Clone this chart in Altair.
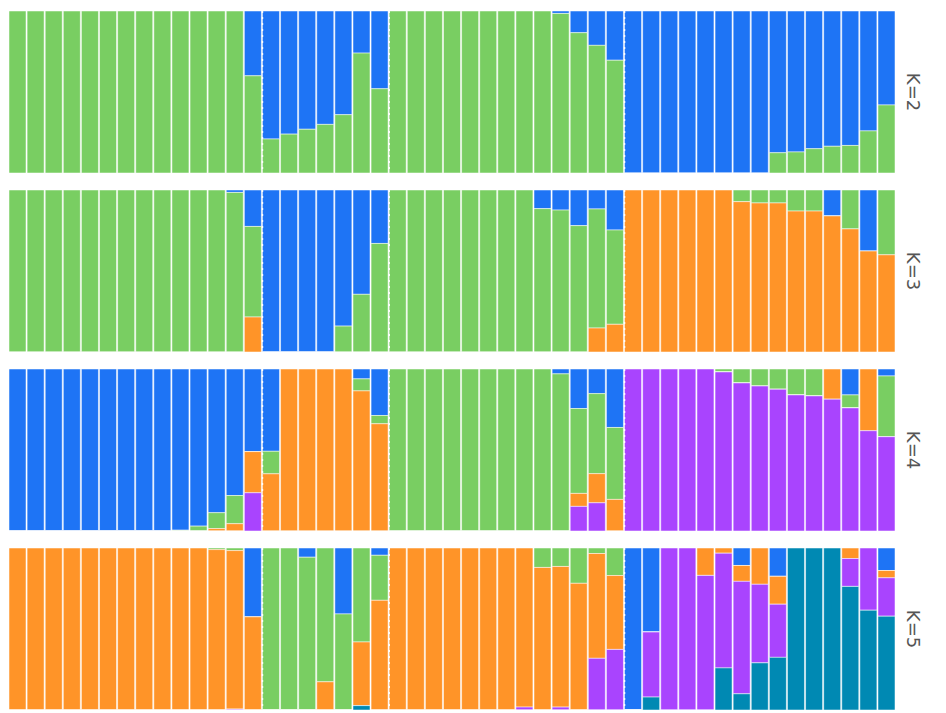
import altair as alt
import pandas as pd

# Population sizes (individuals per population, left to right)
pop_sizes = [14, 7, 13, 15]
sep_individuals = [15, 22, 35]  # first individual of populations 2-4

cluster_names = ["c1", "c2", "c3", "c4", "c5"]
cluster_colors = ["#1E74F5", "#79CE62", "#FF9428", "#A944FE", "#0089B3"]
stack_order = {"c5": 1, "c4": 2, "c3": 3, "c2": 4, "c1": 5}

# ---------- K = 2 ----------
k2_green = [1] * 13 + [0.60] + \
    [0.21, 0.24, 0.27, 0.30, 0.36, 0.74, 0.52] + \
    [1] * 9 + [0.985, 0.866, 0.788, 0.696] + \
    [0] * 8 + [0.125, 0.13, 0.15, 0.165, 0.17, 0.26, 0.42]
k2_blue = [0] * 13 + [0.40] + \
    [0.79, 0.76, 0.73, 0.70, 0.64, 0.26, 0.48] + \
    [0] * 9 + [0.015, 0.134, 0.212, 0.304] + \
    [1] * 8 + [0.875, 0.87, 0.85, 0.835, 0.83, 0.74, 0.58]

# ---------- K = 3 ----------
k3_blue = [0] * 12 + [0.015, 0.225] + \
    [1, 1, 1, 1, 0.84, 0.644, 0.33] + \
    [0] * 8 + [0.115, 0.124, 0.22, 0.117, 0.247] + \
    [0] * 11 + [0.16, 0, 0.377, 0]
k3_green = [1] * 12 + [0.985, 0.559] + \
    [0, 0, 0, 0, 0.16, 0.356, 0.67] + \
    [1] * 8 + [0.885, 0.876, 0.78, 0.735, 0.582] + \
    [0] * 6 + [0.072, 0.08, 0.08, 0.13, 0.13, 0, 0.24, 0, 0.40]
k3_orange = [0] * 13 + [0.216] + \
    [0] * 7 + \
    [0] * 11 + [0.148, 0.171] + \
    [1] * 6 + [0.928, 0.92, 0.92, 0.87, 0.87, 0.84, 0.76, 0.623, 0.60]

# ---------- K = 4 ----------
k4_blue = [1] * 9 + [0.995, 0.97, 0.887, 0.781, 0.51] + \
    [0.508, 0, 0, 0, 0, 0.061, 0.287] + \
    [0] * 9 + [0.03, 0.244, 0.152, 0.361] + \
    [0] * 12 + [0.16, 0, 0.043]
k4_green = [0] * 9 + [0.005, 0.03, 0.098, 0.174, 0] + \
    [0.139, 0, 0, 0, 0, 0.074, 0.051] + \
    [1] * 9 + [0.97, 0.524, 0.494, 0.444] + \
    [0] * 5 + [0.018, 0.086, 0.105, 0.125, 0.16, 0.166, 0, 0.08, 0, 0.375]
k4_orange = [0] * 11 + [0.015, 0.045, 0.254] + \
    [0.353, 1, 1, 1, 1, 0.865, 0.662] + \
    [0] * 10 + [0.08, 0.18, 0.195] + \
    [0] * 11 + [0.186, 0, 0.381, 0]
k4_purple = [0] * 13 + [0.236] + \
    [0] * 7 + \
    [0] * 10 + [0.152, 0.174, 0] + \
    [1] * 5 + [0.982, 0.914, 0.895, 0.875, 0.84, 0.834, 0.814, 0.76, 0.619, 0.582]

# ---------- K = 5 ----------
k5_blue = [0] * 13 + [0.425] + \
    [0, 0, 0.057, 0, 0.407, 0, 0.045] + \
    [0] * 13 + \
    [1, 0.519, 0, 0, 0, 0, 0.108, 0, 0.175, 0, 0, 0, 0, 0, 0.139]
k5_green = [0] * 11 + [0.01, 0.016, 0] + \
    [1, 1, 0.943, 0.826, 0.593, 0.58, 0.278] + \
    [0] * 8 + [0.12, 0.114, 0.218, 0.034, 0.17] + \
    [0] * 15
k5_orange = [1] * 11 + [0.99, 0.978, 0.575] + \
    [0, 0, 0, 0.174, 0, 0.393, 0.677] + \
    [1] * 7 + [0.982, 0.88, 0.868, 0.782, 0.647, 0.456] + \
    [0, 0, 0, 0, 0.169, 0.032, 0.098, 0.224, 0.172, 0, 0, 0, 0.065, 0, 0.045]
k5_purple = [0] * 12 + [0.006, 0] + \
    [0] * 7 + \
    [0] * 7 + [0.018, 0, 0.018, 0, 0.319, 0.374] + \
    [0, 0.401, 1, 1, 0.831, 0.708, 0.694, 0.485, 0.328, 0, 0, 0, 0.172, 0.384, 0.237]
k5_teal = [0] * 14 + \
    [0, 0, 0, 0, 0, 0.027, 0] + \
    [0] * 13 + \
    [0, 0.08, 0, 0, 0, 0.26, 0.1, 0.291, 0.325, 1, 1, 1, 0.763, 0.616, 0.579]

panels = {
    "K=2": {"c1": k2_blue, "c2": k2_green},
    "K=3": {"c1": k3_blue, "c2": k3_green, "c3": k3_orange},
    "K=4": {"c1": k4_blue, "c2": k4_green, "c3": k4_orange, "c4": k4_purple},
    "K=5": {"c1": k5_blue, "c2": k5_green, "c3": k5_orange, "c4": k5_purple, "c5": k5_teal},
}

rows = []
for k, comps in panels.items():
    for cl, vals in comps.items():
        for i, v in enumerate(vals):
            ind = i + 1
            rows.append({
                "K": k, "ind": ind, "cluster": cl, "value": v,
                "ord": stack_order[cl],
                "sep": bool(cl == "c1" and ind in sep_individuals),
            })
df = pd.DataFrame(rows)

base = alt.Chart(df)

bars = base.mark_bar(stroke="white", strokeWidth=1, strokeOpacity=0.5).encode(
    x=alt.X("ind:O", axis=None, scale=alt.Scale(paddingInner=0.06, paddingOuter=0)),
    y=alt.Y("value:Q", stack="normalize", axis=None,
            scale=alt.Scale(domain=[0, 1], nice=False)),
    color=alt.Color("cluster:N", legend=None,
                    scale=alt.Scale(domain=cluster_names, range=cluster_colors)),
    order=alt.Order("ord:Q"),
)

rules = base.transform_filter(alt.datum.sep).mark_rule(
    color="white", strokeDash=[2, 4], strokeWidth=1.5
).encode(
    x=alt.X("ind:O", bandPosition=0)
)

chart = alt.layer(bars, rules).properties(
    width=886, height=162
).facet(
    row=alt.Row("K:N", title=None,
                header=alt.Header(labelOrient="right", labelAngle=90,
                                  labelFontSize=18, labelColor="#555555",
                                  labelPadding=7, labelFont="DejaVu Sans"))
).configure_view(
    stroke=None
).configure_facet(
    spacing=15
).properties(
    padding={"left": 0, "top": 2, "right": 4, "bottom": 0}
)

chart.save("out.html", embed_options={"renderer": "svg", "actions": False})
